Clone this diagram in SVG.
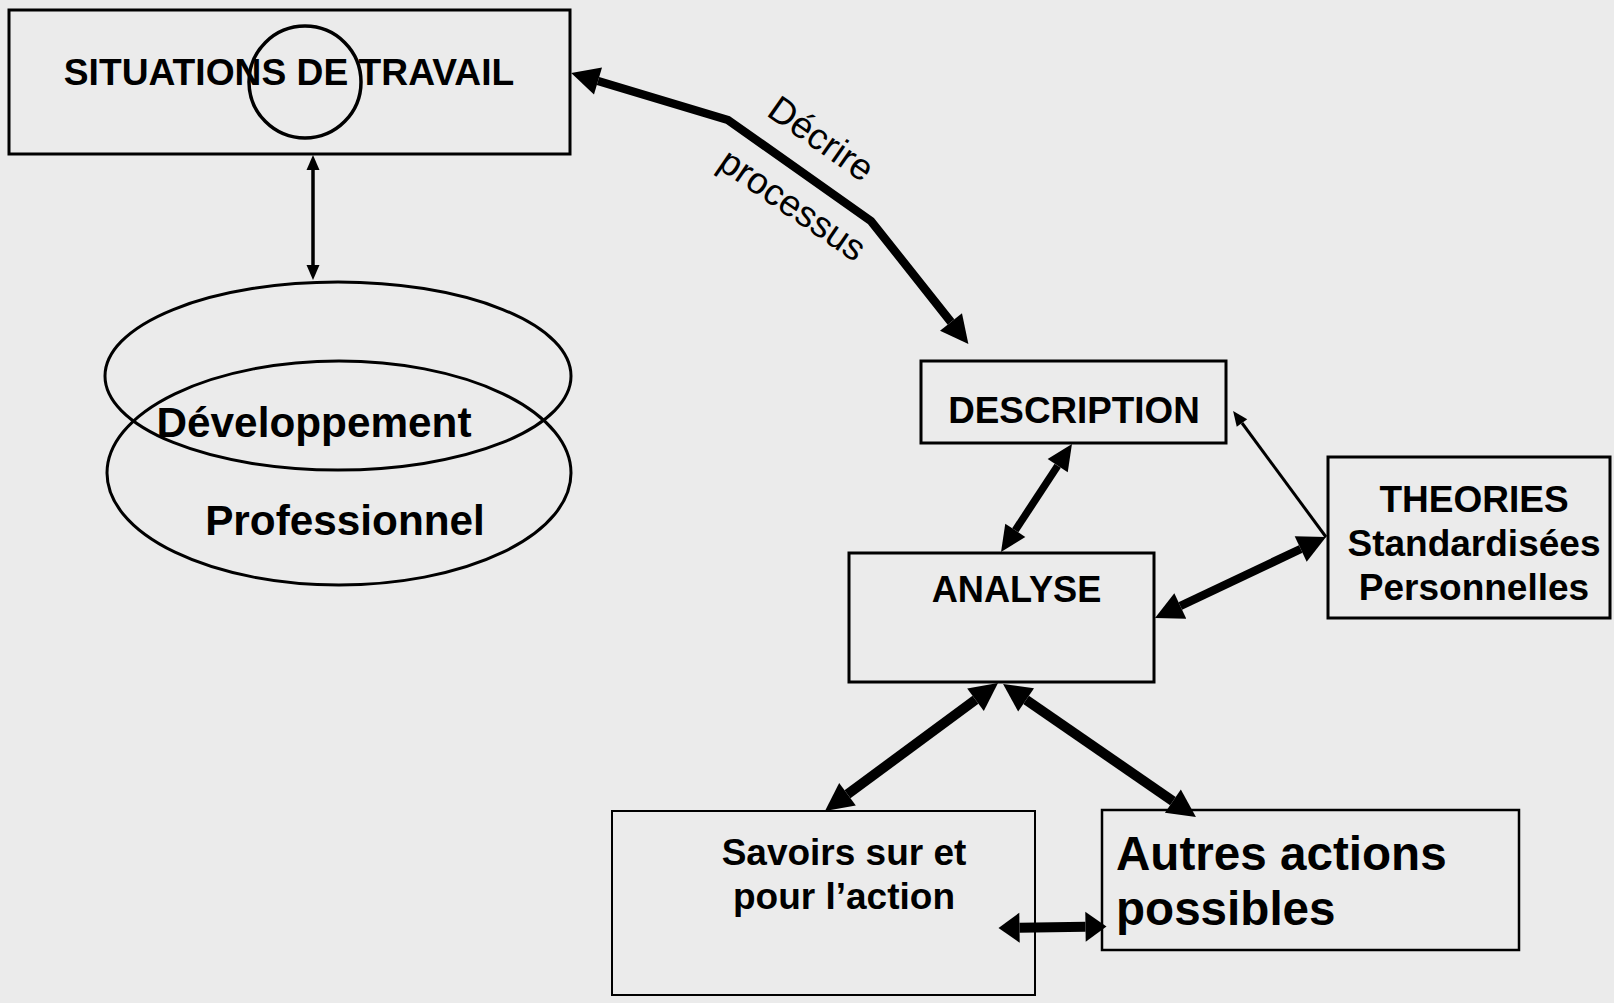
<svg xmlns="http://www.w3.org/2000/svg" width="1614" height="1003" viewBox="0 0 1614 1003">
<style>
.box{fill:none;stroke:#000;stroke-width:3}
.t{font-family:"Liberation Sans",Arial,sans-serif;font-weight:bold;fill:#000}
.r{font-family:"Liberation Sans",Arial,sans-serif;fill:#000}
.c{fill:none;stroke:#000;stroke-linejoin:miter}
</style>
<defs>
<marker id="big" markerUnits="userSpaceOnUse" markerWidth="28" markerHeight="28" refX="0" refY="14" orient="auto-start-reverse" overflow="visible"><path d="M0,0 L28,14 L0,28 z" fill="#000"/></marker>
<marker id="med" markerUnits="userSpaceOnUse" markerWidth="26" markerHeight="24" refX="0" refY="12" orient="auto-start-reverse" overflow="visible"><path d="M0,0 L26,12 L0,24 z" fill="#000"/></marker>
<marker id="small" markerUnits="userSpaceOnUse" markerWidth="15" markerHeight="13" refX="0" refY="6.5" orient="auto-start-reverse" overflow="visible"><path d="M0,0 L15,6.5 L0,13 z" fill="#000"/></marker>
<marker id="wide" markerUnits="userSpaceOnUse" markerWidth="21" markerHeight="30" refX="0" refY="15" orient="auto-start-reverse" overflow="visible"><path d="M0,0 L21,15 L0,30 z" fill="#000"/></marker>
</defs>
<rect width="1614" height="1003" fill="#ebebeb"/>

<g id="situations">
<rect class="box" x="9" y="10" width="561" height="144"/>
<text class="t" x="289" y="85" font-size="37.2" text-anchor="middle">SITUATIONS DE TRAVAIL</text>
<circle cx="305" cy="82" r="56" fill="none" stroke="#000" stroke-width="3.5"/>
</g>

<g id="developpement">
<ellipse cx="338" cy="376" rx="233" ry="94" fill="none" stroke="#000" stroke-width="3"/>
<ellipse cx="339" cy="473" rx="232" ry="112" fill="none" stroke="#000" stroke-width="3"/>
<text class="t" x="314" y="437" font-size="42.3" text-anchor="middle">Développement</text>
<text class="t" x="345" y="535" font-size="42.3" text-anchor="middle">Professionnel</text>
</g>

<g id="description">
<rect class="box" x="921" y="361" width="305" height="82"/>
<text class="t" x="1074" y="423" font-size="36.8" text-anchor="middle">DESCRIPTION</text>
</g>

<g id="analyse">
<rect class="box" x="849" y="553" width="305" height="129"/>
<text class="t" x="1016.5" y="602" font-size="36.2" text-anchor="middle">ANALYSE</text>
</g>

<g id="theories">
<rect class="box" x="1328" y="457" width="282" height="161"/>
<text class="t" x="1474" y="512" font-size="37" text-anchor="middle">THEORIES</text>
<text class="t" x="1474" y="556" font-size="37" text-anchor="middle">Standardisées</text>
<text class="t" x="1474" y="600" font-size="37" text-anchor="middle">Personnelles</text>
</g>

<g id="savoirs">
<rect x="612" y="811" width="423" height="184" fill="none" stroke="#000" stroke-width="2"/>
<text class="t" x="844" y="865" font-size="37" text-anchor="middle">Savoirs sur et</text>
<text class="t" x="844" y="909" font-size="37" text-anchor="middle">pour l’action</text>
</g>

<g id="autres">
<rect x="1102" y="810" width="417" height="140" fill="none" stroke="#000" stroke-width="2.5"/>
<text class="t" x="1116" y="870" font-size="47.6">Autres actions</text>
<text class="t" x="1116" y="925" font-size="47.6">possibles</text>
</g>

<g id="connectors">
<line class="c" x1="313" y1="170" x2="313" y2="265" stroke-width="3.5" marker-start="url(#small)" marker-end="url(#small)"/>
<polyline class="c" points="598,81 728,120 871,221 951,322" stroke-width="8.5" marker-start="url(#big)" marker-end="url(#big)"/>
<line class="c" x1="1057.7" y1="465.7" x2="1015.3" y2="530.3" stroke-width="7.5" marker-start="url(#med)" marker-end="url(#med)"/>
<line class="c" x1="1326" y1="537" x2="1242" y2="423" stroke-width="3" marker-end="url(#small)"/>
<line class="c" x1="1300.7" y1="549" x2="1180.3" y2="606" stroke-width="8.5" marker-start="url(#big)" marker-end="url(#big)"/>
<line class="c" x1="975.5" y1="699.7" x2="847.5" y2="794.3" stroke-width="10" marker-start="url(#big)" marker-end="url(#big)"/>
<line class="c" x1="1026.1" y1="699.9" x2="1172.9" y2="801.1" stroke-width="10" marker-start="url(#big)" marker-end="url(#big)"/>
<line class="c" x1="1019.5" y1="927.7" x2="1085.5" y2="926.8" stroke-width="10" marker-start="url(#wide)" marker-end="url(#wide)"/>
<text class="r" font-size="37" text-anchor="middle" transform="translate(821,139) rotate(35)" y="12">Décrire</text>
<text class="r" font-size="37" text-anchor="middle" transform="translate(789,210) rotate(34.5)" y="6">processus</text>
</g>
</svg>
